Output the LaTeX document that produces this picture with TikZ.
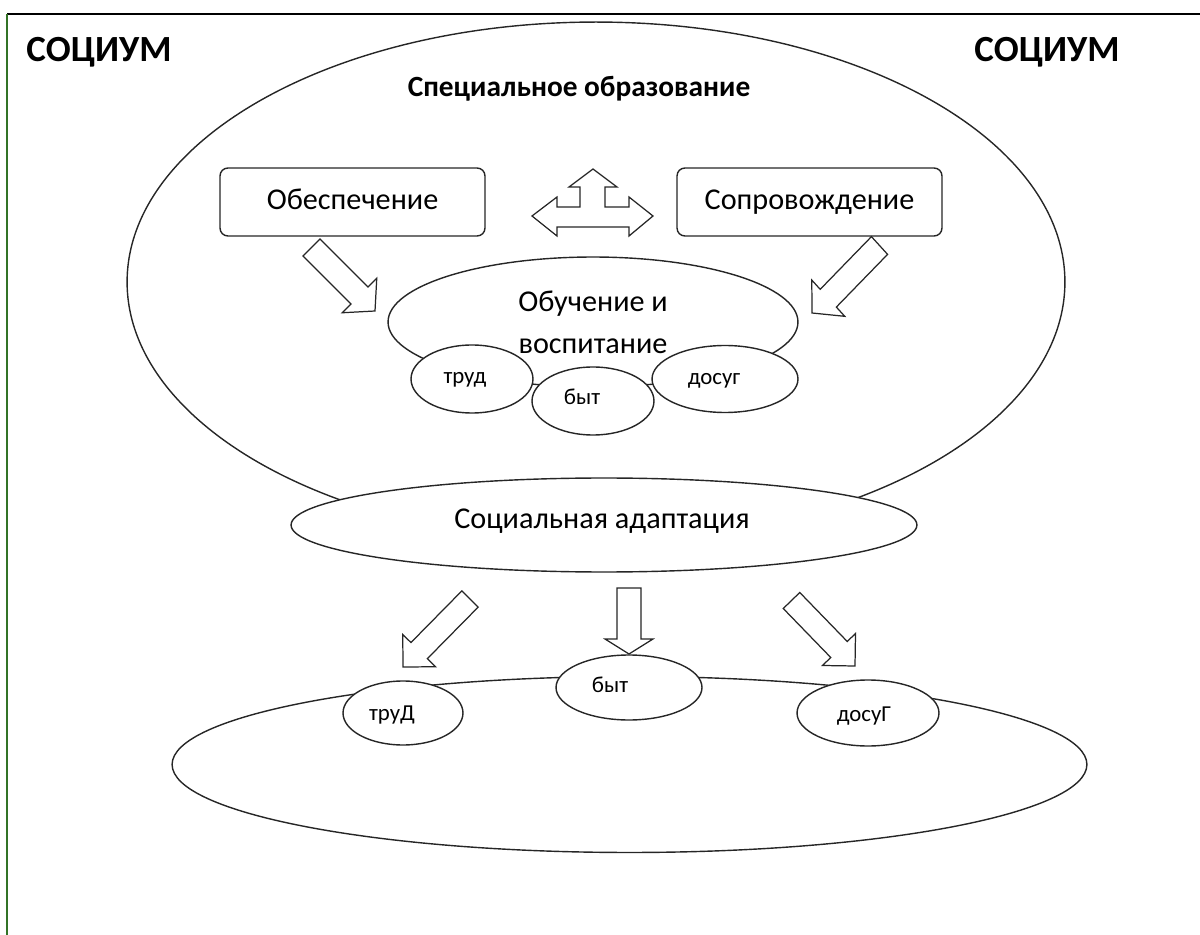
\documentclass[tikz,border=0pt]{standalone}
\usepackage{fontspec}
\setmainfont{Carlito}
\usetikzlibrary{shapes.geometric,calc}
\definecolor{framegreen}{rgb}{0.2,0.45,0.15}
\tikzset{
  ln/.style={draw=black!85,line width=0.8pt},
  ell/.style={ln,ellipse,inner sep=0pt,fill=white},
  box/.style={ln,rectangle,rounded corners=4.5pt,inner sep=0pt,fill=white,minimum width=5.3cm,minimum height=1.36cm,text height=11pt,text depth=3pt},
  txt/.style={font=\fontsize{17.2}{24}\selectfont},
  smalltxt/.style={font=\fontsize{13}{15}\selectfont,anchor=base,inner sep=0pt},
  arr/.style={draw=black!85,line width=0.7pt,fill=white,line join=miter},
}
\newcommand\blockarr[5]{%
  \coordinate (neck) at ($(#2)!#5!(#1)$);
  \draw[arr] ($(#1)!#3!90:(#2)$) -- ($(neck)!#3!90:(#2)$) -- ($(neck)!#4!90:(#2)$) -- (#2)
    -- ($(neck)!#4!-90:(#2)$) -- ($(neck)!#3!-90:(#2)$) -- ($(#1)!#3!-90:(#2)$) -- cycle;}
\begin{document}
\begin{tikzpicture}[x=0.02cm,y=-0.02cm]
\useasboundingbox (0,0) rectangle (1200,935);
% frame
\coordinate (fTL) at (7,14);
\coordinate (fTR) at (1200,14);
\coordinate (fBL) at (7,935);
\draw[black,line width=1.1pt] (fTL) -- (fTR);
\draw[framegreen,line width=1.1pt] (fTL) -- (fBL);
% titles
\node[font=\bfseries\fontsize{21}{24}\selectfont,anchor=base] (socL) at (99,62) {СОЦИУМ};
\node[font=\bfseries\fontsize{21}{24}\selectfont,anchor=base] (socR) at (1047,62) {СОЦИУМ};
% special education
\node[ell,fill=none,minimum width=18.76cm,minimum height=10.4cm] (spec) at (596,282) {};
\node[font=\bfseries\fontsize{16.7}{18}\selectfont,anchor=base] (spectxt) at (579,97) {Специальное образование};
% social adaptation
\node[ell,minimum width=12.52cm,minimum height=1.88cm] (adapt) at (604,525) {};
\node[txt,anchor=base,inner sep=0pt] (adapttxt) at (602,529) {Социальная адаптация};
% teaching ellipse
\node[ell,minimum width=8.2cm,minimum height=2.6cm,txt,align=center] (teach) at (593,322) {Обучение и\\воспитание};
\node[ell,minimum width=2.44cm,minimum height=1.36cm] (trud1) at (472,379) {};
\node[ell,minimum width=2.44cm,minimum height=1.36cm] (byt1) at (593,401) {};
\node[ell,minimum width=2.92cm,minimum height=1.34cm] (dos1) at (725,379) {};
\node[smalltxt] (trud1t) at (465,384) {труд};
\node[smalltxt] (byt1t) at (582,405) {быт};
\node[smalltxt] (dos1t) at (714,385) {досуг};
% boxes
\node[box,txt] (obesp) at (352.5,202) {Обеспечение};
\node[box,txt] (sopr) at (809.5,202) {Сопровождение};
% up-left-right arrow
\draw[arr] (532,216) -- (557,197) -- (557,207) -- (580,207) -- (580,187) -- (569,187) -- (593,169)
  -- (617,187) -- (605,187) -- (605,207) -- (629,207) -- (629,197) -- (653,216) -- (629,236)
  -- (629,227) -- (557,227) -- (557,236) -- cycle;
% block arrows top
\coordinate (a1b) at (311.5,247.5); \coordinate (a1t) at (375,311);
\coordinate (a2b) at (879.5,245.5); \coordinate (a2t) at (812,313);
\blockarr{a1b}{a1t}{0.24cm}{0.49cm}{0.44cm}
\blockarr{a2b}{a2t}{0.24cm}{0.49cm}{0.44cm}
% block arrows bottom
\coordinate (b1b) at (470,599); \coordinate (b1t) at (403,667);
\coordinate (b2b) at (629,588); \coordinate (b2t) at (629,654);
\coordinate (b3b) at (791.5,600.5); \coordinate (b3t) at (855,666);
\blockarr{b1b}{b1t}{0.23cm}{0.46cm}{0.46cm}
\blockarr{b2b}{b2t}{0.24cm}{0.48cm}{0.3cm}
\blockarr{b3b}{b3t}{0.23cm}{0.46cm}{0.46cm}
% bottom society ellipse
\node[ell,fill=none,minimum width=18.3cm,minimum height=3.52cm] (life) at (629.5,764.5) {};
\node[ell,minimum width=2.4cm,minimum height=1.28cm] (trud2) at (403,713) {};
\node[ell,minimum width=2.92cm,minimum height=1.3cm] (byt2) at (629,687.5) {};
\node[ell,minimum width=2.84cm,minimum height=1.32cm] (dos2) at (868,713) {};
\node[smalltxt] (trud2t) at (392,720) {труД};
\node[smalltxt] (byt2t) at (610,692) {быт};
\node[smalltxt] (dos2t) at (864,721) {досуГ};
\end{tikzpicture}
\end{document}
